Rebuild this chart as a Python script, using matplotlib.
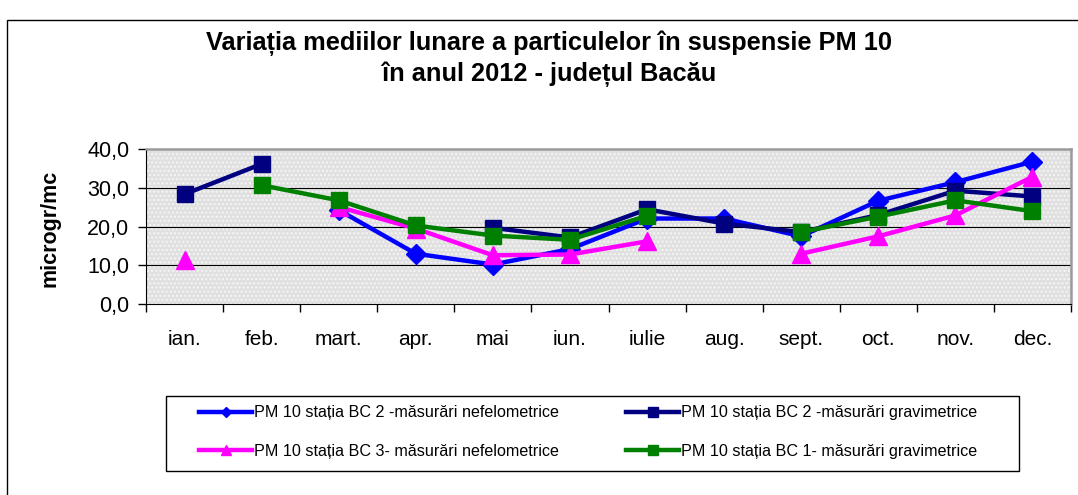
import matplotlib
matplotlib.use("Agg")
import matplotlib.pyplot as plt
import numpy as np
from matplotlib.lines import Line2D
from matplotlib.patches import Rectangle

plt.rcParams["font.family"] = ["Liberation Sans", "DejaVu Sans"]

MONTHS = ["ian.", "feb.", "mart.", "apr.", "mai", "iun.", "iulie", "aug.", "sept.", "oct.", "nov.", "dec."]
nan = np.nan

# values (microgr/mc), NaN = no data
bc2_nefelo = [nan, nan, 24.3, 13.0, 10.2, 14.2, 22.1, 22.1, 17.5, 26.7, 31.5, 36.8]
bc2_grav = [28.4, 36.2, nan, nan, 19.7, 17.2, 24.5, 20.8, 18.6, 23.0, 29.3, 27.8]
bc3_nefelo = [11.3, nan, 25.1, 19.5, 12.6, 12.8, 16.2, nan, 13.0, 17.5, 22.9, 32.9]
bc1_grav = [nan, 30.7, 26.8, 20.3, 17.7, 16.6, 22.8, nan, 18.6, 22.6, 26.8, 24.0]

LABELS = [
    "PM 10 stația BC 2 -măsurări nefelometrice",
    "PM 10 stația BC 2 -măsurări gravimetrice",
    "PM 10 stația BC 3- măsurări nefelometrice",
    "PM 10 stația BC 1- măsurări gravimetrice",
]
Y_TICKS = [0, 10, 20, 30, 40]

W, H = 1078, 495


def fx(px):
    return px / W


def fy(py):
    return 1 - py / H


def main():
    fig = plt.figure(figsize=(W / 100, H / 100), dpi=100)
    fig.patch.set_facecolor("white")

    # outer chart border (clipped by the image on the right/bottom)
    fig.patches.append(Rectangle((fx(7), -0.05), 1.2, fy(20) + 0.05, transform=fig.transFigure,
                                 facecolor="none", edgecolor="black", linewidth=1.0))

    ax = fig.add_axes([fx(146), fy(304), fx(1071) - fx(146), fy(149.3) - fy(304)])
    ax.set_facecolor("#e0e0e0")
    ax.add_patch(Rectangle((0, 0), 1, 1, transform=ax.transAxes, facecolor="#e0e0e0",
                           edgecolor="#f6f6f6", hatch="....", linewidth=0, zorder=0))

    x = np.arange(len(MONTHS))
    series = [
        (bc2_nefelo, "#0000FF", "D", 10),
        (bc2_grav, "#000080", "s", 12),
        (bc3_nefelo, "#FF00FF", "^", 13),
        (bc1_grav, "#008000", "s", 12),
    ]
    handles = []
    for (vals, color, marker, ms), label in zip(series, LABELS):
        ax.plot(x, vals, color=color, linewidth=3.2, marker=marker, markersize=ms,
                markeredgecolor=color, markerfacecolor=color, zorder=3)
        # smaller markers in the legend, as in the original
        handles.append(Line2D([], [], color=color, linewidth=3.2, marker=marker,
                              markersize=ms * 0.55, markeredgecolor=color, markerfacecolor=color))

    ax.set_xlim(-0.5, len(MONTHS) - 0.5)
    ax.set_ylim(0, 40)
    ax.set_yticks(Y_TICKS)
    ax.set_yticklabels([f"{v:.1f}".replace(".", ",") for v in Y_TICKS], fontsize=15.5)
    for v in Y_TICKS[1:-1]:
        ax.axhline(v, color="black", linewidth=0.8, zorder=1)

    ax.set_xticks(x)
    ax.set_xticklabels(MONTHS, fontsize=15)
    ax.set_xticks(np.arange(-0.5, len(MONTHS)), minor=True)
    ax.tick_params(axis="x", which="major", length=0, pad=19)
    ax.tick_params(axis="x", which="minor", length=6, width=1, direction="out")
    ax.tick_params(axis="y", length=6, width=1, direction="out", pad=6)

    ax.spines["left"].set_color("black")
    ax.spines["bottom"].set_color("black")
    ax.spines["top"].set_color("#9a9a9a")
    ax.spines["top"].set_linewidth(1.8)
    ax.spines["right"].set_color("#9a9a9a")
    ax.spines["right"].set_linewidth(1.8)

    fig.text(fx(549), fy(58.5), "Variația mediilor lunare a particulelor în suspensie PM 10\nîn anul 2012 - județul Bacău",
             ha="center", va="center", fontsize=18.3, fontweight="bold", linespacing=1.3)
    fig.text(fx(50), fy(228), "microgr/mc", rotation=90, ha="center", va="center",
             fontsize=15.5, fontweight="bold")

    # legend frame and entries
    fig.patches.append(Rectangle((fx(166), fy(471)), fx(1019) - fx(166), fy(396) - fy(471),
                                 transform=fig.transFigure, facecolor="white", edgecolor="black", linewidth=1.0))
    order = [0, 2, 1, 3]
    fig.legend([handles[i] for i in order], [LABELS[i] for i in order], ncol=2,
               loc="center left", bbox_to_anchor=(fx(199), fy(432)), frameon=False,
               fontsize=11.6, handlelength=3.3, handletextpad=0.1, columnspacing=4.2,
               labelspacing=1.45, numpoints=1, borderpad=0, borderaxespad=0)

    fig.savefig("out.png", dpi=100)


if __name__ == "__main__":
    main()
